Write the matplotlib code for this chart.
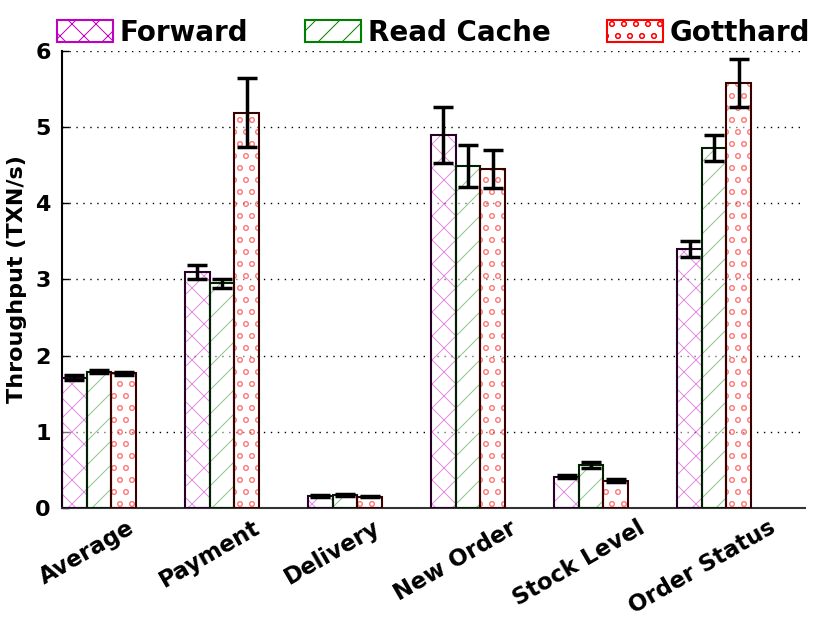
import numpy as np
import matplotlib
matplotlib.use('Agg')
import matplotlib.pyplot as plt
from matplotlib.patches import Patch

categories = ['Average', 'Payment', 'Delivery', 'New Order', 'Stock Level', 'Order Status']
series = ['Forward', 'Read Cache', 'Gotthard']

forward = [1.71, 3.10, 0.16, 4.90, 0.41, 3.40]
forward_err = [0.03, 0.09, 0.01, 0.37, 0.02, 0.10]
read_cache = [1.79, 2.95, 0.17, 4.49, 0.56, 4.73]
read_cache_err = [0.02, 0.06, 0.01, 0.27, 0.04, 0.17]
gotthard = [1.77, 5.19, 0.15, 4.45, 0.36, 5.58]
gotthard_err = [0.02, 0.45, 0.01, 0.25, 0.02, 0.31]

colors = ['m', 'g', 'r']
edge_colors = ['#2a002a', '#002200', '#3a0000']
hatches = ['x', '/', 'o']

# figure is drawn at 72 dpi (hatch spacing depends on it), so sizes in px = pt
S = 100 / 72.0

plt.rcParams['font.family'] = 'DejaVu Sans'
plt.rcParams['font.weight'] = 'bold'
plt.rcParams['hatch.linewidth'] = 1.0

fig = plt.figure(figsize=(831 / 72.0, 629 / 72.0), dpi=72)
ax = fig.add_axes([0.0746, 0.1924, 0.8944, 0.7266])

x = np.arange(len(categories))
width = 0.2
values = [forward, read_cache, gotthard]
errors = [forward_err, read_cache_err, gotthard_err]

for k in range(3):
    pos = x - width + k * width
    # hatch in light colour
    ax.bar(pos, values[k], width, color='white', edgecolor=colors[k],
           hatch=hatches[k], alpha=0.45, linewidth=0, zorder=2)
    # dark outline
    ax.bar(pos, values[k], width, fill=False, edgecolor=edge_colors[k],
           linewidth=1.5 * S, zorder=3)
    ax.errorbar(pos, values[k], yerr=errors[k], fmt='none', ecolor='black',
                elinewidth=2.5 * S, capsize=7 * S, capthick=2.5 * S, zorder=4)

ax.set_xlim(-0.3, 5.74)
ax.set_ylim(0, 6)
ax.set_yticks(range(7))
ax.set_yticklabels([str(i) for i in range(7)], fontsize=16 * S, fontweight='bold')
ax.set_xticks(x - width / 2)
ax.set_xticklabels(categories, rotation=30, ha='center', fontsize=16.5 * S,
                   fontweight='bold')
ax.tick_params(axis='x', length=0, pad=6 * S)
ax.tick_params(axis='y', direction='in', length=5 * S, width=1 * S, pad=8 * S)
ax.set_ylabel('Throughput (TXN/s)', fontsize=16 * S, fontweight='bold', labelpad=6 * S)

ax.yaxis.grid(True, linestyle=(0, (1, 4)), color='black', linewidth=1 * S)
ax.set_axisbelow(True)
ax.spines['top'].set_visible(False)
ax.spines['right'].set_visible(False)
ax.spines['left'].set_linewidth(1.5 * S)
ax.spines['bottom'].set_linewidth(1.5 * S)
ax.spines['bottom'].set_color('#333333')

handles = []
for k in range(3):
    handles.append(Patch(facecolor='white', edgecolor=colors[k], hatch=hatches[k],
                         linewidth=1.5 * S))
leg = ax.legend(handles, series, loc='lower center', bbox_to_anchor=(0.5, 0.985),
                ncol=3, frameon=False, handlelength=2.0,
                handleheight=0.8, handletextpad=0.25, columnspacing=2.05,
                borderaxespad=0, prop={'weight': 'bold', 'size': 20 * S})

plt.savefig('out.png', dpi=72)
